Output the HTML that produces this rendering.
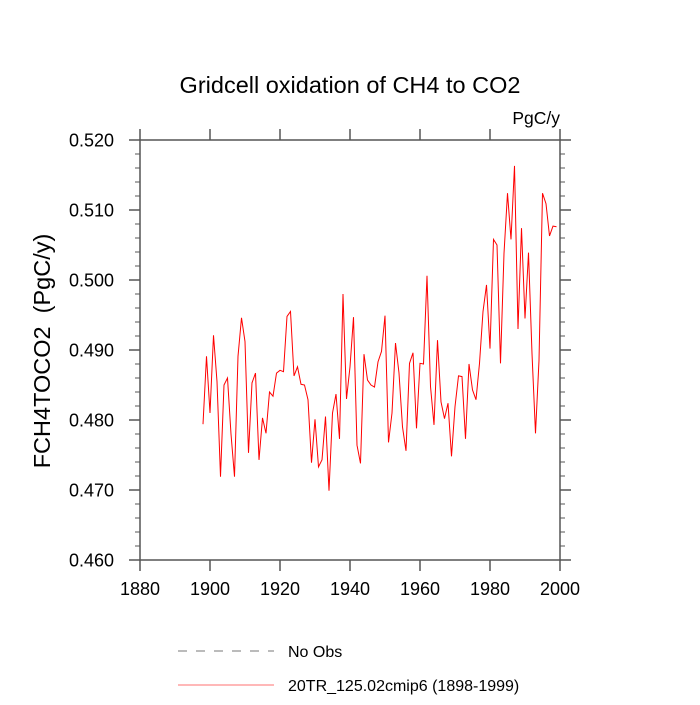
<!DOCTYPE html>
<html><head><meta charset="utf-8"><style>
body{margin:0;background:#fff;}
svg text{font-family:"Liberation Sans",sans-serif;white-space:pre;}
</style></head><body>
<svg id="chart" width="700" height="700" viewBox="0 0 700 700">
<rect width="700" height="700" fill="#fff"/>
<text x="350" y="93" font-size="23.5" text-anchor="middle">Gridcell oxidation of CH4 to CO2</text>
<text x="560" y="124" font-size="17.5" text-anchor="end">PgC/y</text>
<text transform="translate(50,351) rotate(-90)" font-size="23.5" text-anchor="middle" xml:space="preserve">FCH4TOCO2  (PgC/y)</text>
<g id="axes"></g>
<polyline id="series" fill="none" stroke="#ff0000" stroke-width="1"/>
<g>
<line x1="178" y1="651" x2="274" y2="651" stroke="#777" stroke-width="1" stroke-dasharray="9,9"/>
<text x="288" y="657" font-size="16">No Obs</text>
<line x1="178" y1="685" x2="274" y2="685" stroke="#ff4040" stroke-width="0.8"/>
<text x="288" y="691" font-size="16">20TR_125.02cmip6 (1898-1999)</text>
</g>
</svg>
<script>
const startYear = 1898;
const values = [0.4794,0.4891,0.4810,0.4921,0.4855,0.4719,0.4850,0.4860,0.4780,0.4719,
0.4891,0.4946,0.4912,0.4753,0.4853,0.4867,0.4743,0.4803,0.4781,0.4840,
0.4834,0.4867,0.4871,0.4869,0.4948,0.4955,0.4863,0.4876,0.4851,0.4850,
0.4829,0.4739,0.4801,0.4733,0.4743,0.4805,0.4699,0.4810,0.4837,0.4773,
0.4980,0.4830,0.4876,0.4947,0.4764,0.4738,0.4894,0.4857,0.4850,0.4847,
0.4883,0.4898,0.4949,0.4768,0.4810,0.4910,0.4867,0.4790,0.4756,0.4881,
0.4896,0.4788,0.4881,0.4880,0.5006,0.4848,0.4793,0.4914,0.4826,0.4802,
0.4824,0.4748,0.4819,0.4863,0.4862,0.4773,0.4880,0.4843,0.4829,0.4881,
0.4955,0.4993,0.4902,0.5058,0.5050,0.4881,0.5038,0.5124,0.5058,0.5163,
0.4930,0.5074,0.4945,0.5039,0.4895,0.4781,0.4885,0.5124,0.5109,0.5063,
0.5077,0.5076];
const xTicks = [1880,1900,1920,1940,1960,1980,2000];
const yTicks = [0.460,0.470,0.480,0.490,0.500,0.510,0.520];
const xMin=1880,xMax=2000,yMin=0.46,yMax=0.52;
const L=140,R=560,T=140,B=560;
const sx=v=>L+(v-xMin)/(xMax-xMin)*(R-L);
const sy=v=>B-(v-yMin)/(yMax-yMin)*(B-T);
const NS='http://www.w3.org/2000/svg';
const ax=document.getElementById('axes');
function mk(tag,attrs){const e=document.createElementNS(NS,tag);for(const k in attrs)e.setAttribute(k,attrs[k]);ax.appendChild(e);return e;}
const frame=mk('rect',{x:L,y:T,width:R-L,height:B-T,fill:'none',stroke:'#555','stroke-width':1.5});


xTicks.forEach(t=>{
  const x=sx(t);
  mk('line',{x1:x,y1:B,x2:x,y2:B+11,stroke:'#555','stroke-width':1.5});
  mk('line',{x1:x,y1:T,x2:x,y2:T-11,stroke:'#555','stroke-width':1.5});
  const tx=mk('text',{x:x,y:B+35,'font-size':18,'text-anchor':'middle'});
  tx.textContent=t;
  
  
});
for(let i=0;i<=30;i++){
  const v=yMin+i*0.002;const y=sy(v);const major=i%5===0;const len=major?11:5;
  mk('line',{x1:L,y1:y,x2:L-len,y2:y,stroke:'#555','stroke-width':major?1.5:1});
  mk('line',{x1:R,y1:y,x2:R+len,y2:y,stroke:'#555','stroke-width':major?1.5:1});
}
yTicks.forEach(t=>{
  const tx=mk('text',{x:L-26,y:sy(t)+6.5,'font-size':18,'text-anchor':'end'});
  tx.textContent=t.toFixed(3);
  
  
});
document.getElementById('series').setAttribute('points',values.map((v,i)=>sx(startYear+i)+','+sy(v)).join(' '));
</script>
</body></html>
